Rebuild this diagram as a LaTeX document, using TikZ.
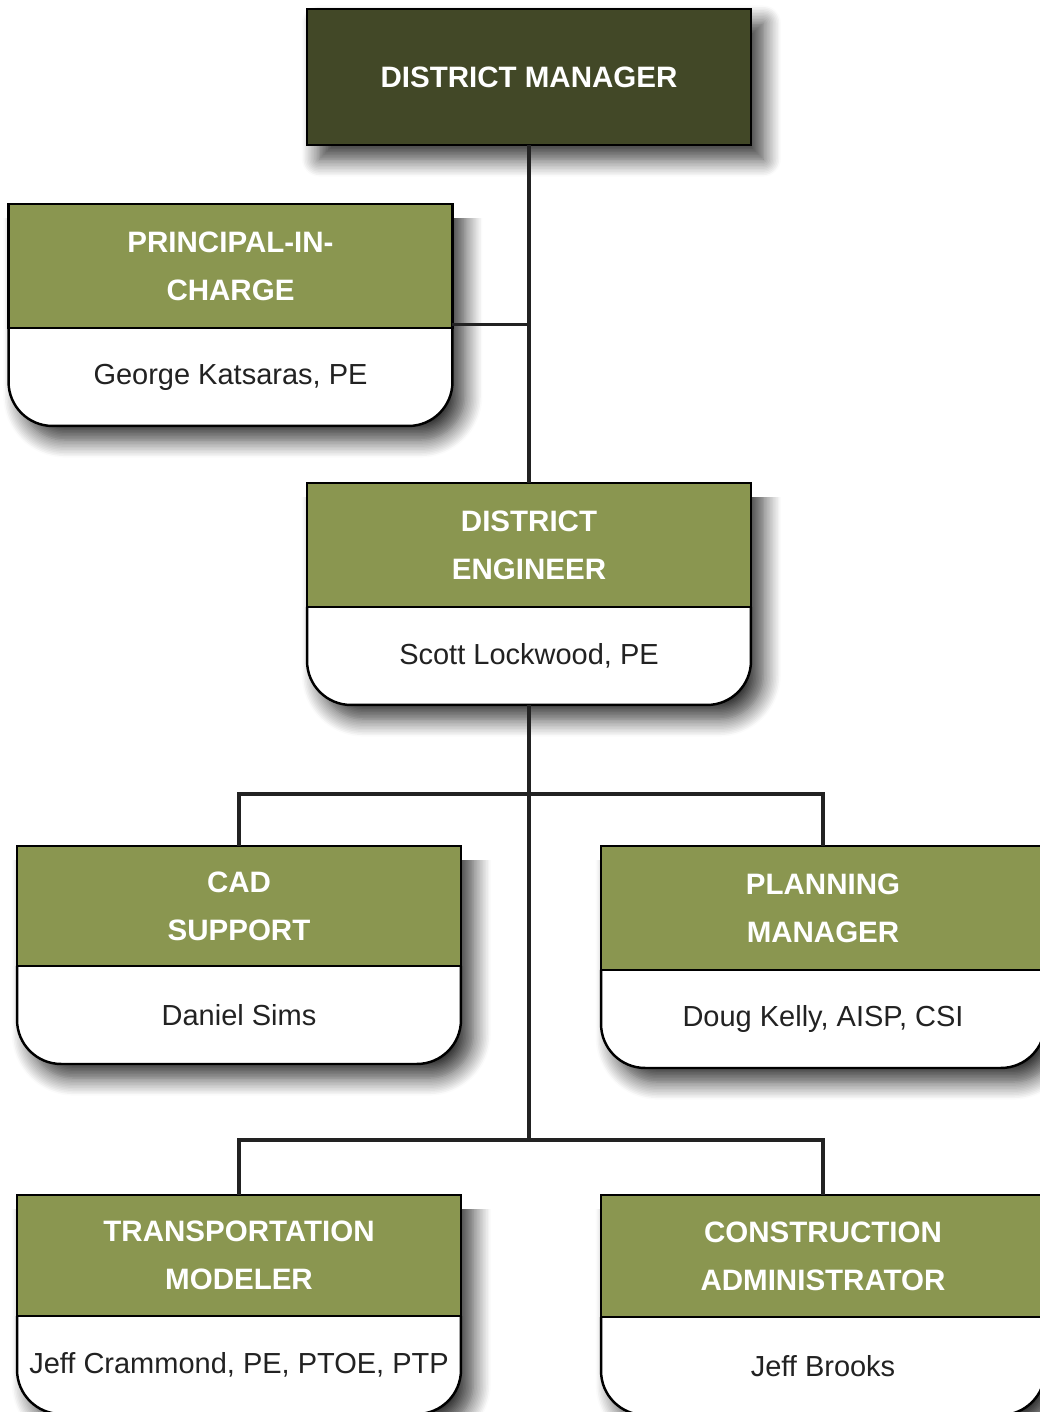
\documentclass[tikz,border=0pt]{standalone}
\usepackage{fontspec}
\setmainfont{Liberation Sans}
\usetikzlibrary{positioning,shadows.blur,backgrounds}

\definecolor{darkolive}{HTML}{424827}
\definecolor{orgolive}{HTML}{8A9650}
\definecolor{linegray}{HTML}{222222}
\definecolor{textgray}{HTML}{222222}

\tikzset{
  hdr/.style={draw=black, line width=1.4pt, fill=orgolive, text=white,
    minimum width=8.88cm, minimum height=2.48cm, inner sep=0pt, outer sep=0pt,
    align=center, font=\fontsize{16.8}{27.3}\selectfont\bfseries},
  body/.style={minimum width=8.88cm, minimum height=1.96cm, inner sep=0pt,
    outer sep=0pt, text=textgray, font=\fontsize{16.5}{20}\selectfont},
  boxshadow/.style={blur shadow={shadow xshift=7pt, shadow yshift=-8pt,
    shadow blur radius=10pt, shadow opacity=80, shadow blur steps=12}},
  link/.style={draw=linegray, line width=2.2pt},
}

\begin{document}
\begin{tikzpicture}[x=0.02cm, y=-0.02cm]
  \useasboundingbox (0,0) rectangle (1040,1412);

  % top
  \node[hdr, fill=darkolive, boxshadow, minimum height=2.72cm] (dm) at (529,77) {DISTRICT MANAGER};

  \node[hdr] (pich) at (230.5,266) {PRINCIPAL-IN-\\CHARGE};
  \node[body, below=0pt of pich] (picb) {George Katsaras, PE};

  \node[hdr] (deh) at (529,545) {DISTRICT\\ENGINEER};
  \node[body, below=0pt of deh] (deb) {Scott Lockwood, PE};

  % second row
  \node[hdr, minimum height=2.4cm] (cadh) at (239,906) {CAD\\SUPPORT};
  \node[body, below=0pt of cadh] (cadb) {Daniel Sims};

  \node[hdr] (pmh) at (823,908) {PLANNING\\MANAGER};
  \node[body, below=0pt of pmh] (pmb) {Doug Kelly, AISP, CSI};

  % third row
  \node[hdr, minimum height=2.42cm] (tmh) at (239,1255.5) {TRANSPORTATION\\MODELER};
  \node[body, below=0pt of tmh] (tmb) {Jeff Crammond, PE, PTOE, PTP};

  \node[hdr, minimum height=2.44cm] (cah) at (823,1256) {CONSTRUCTION\\ADMINISTRATOR};
  \node[body, below=0pt of cah] (cab) {Jeff Brooks};

  % box bodies with rounded bottoms
  \foreach \h/\b in {pich/picb, deh/deb, cadh/cadb, pmh/pmb, tmh/tmb, cah/cab} {
    \begin{scope}[on background layer]
      \path[fill=white, boxshadow, rounded corners=0.88cm]
        (\h.north east) -- (\b.south east) -- (\b.south west) -- (\h.north west);
    \end{scope}
    \draw[line width=1.4pt, rounded corners=0.88cm]
      (\b.north west) -- (\b.south west) -- (\b.south east) -- (\b.north east);
  }

  % connectors
  \coordinate (j1) at (529,794);
  \coordinate (j2) at (529,1140);
  \draw[link] (dm) -- (deh);
  \draw[link] ([yshift=2pt]pich.south east) -- ([yshift=2pt]pich.south east -| dm.south);
  \draw[link] (deb.south) -- (j2);
  \draw[link] (cadh.north) |- (j1) -| (pmh.north);
  \draw[link] (tmh.north) |- (j2) -| (cah.north);
\end{tikzpicture}
\end{document}
